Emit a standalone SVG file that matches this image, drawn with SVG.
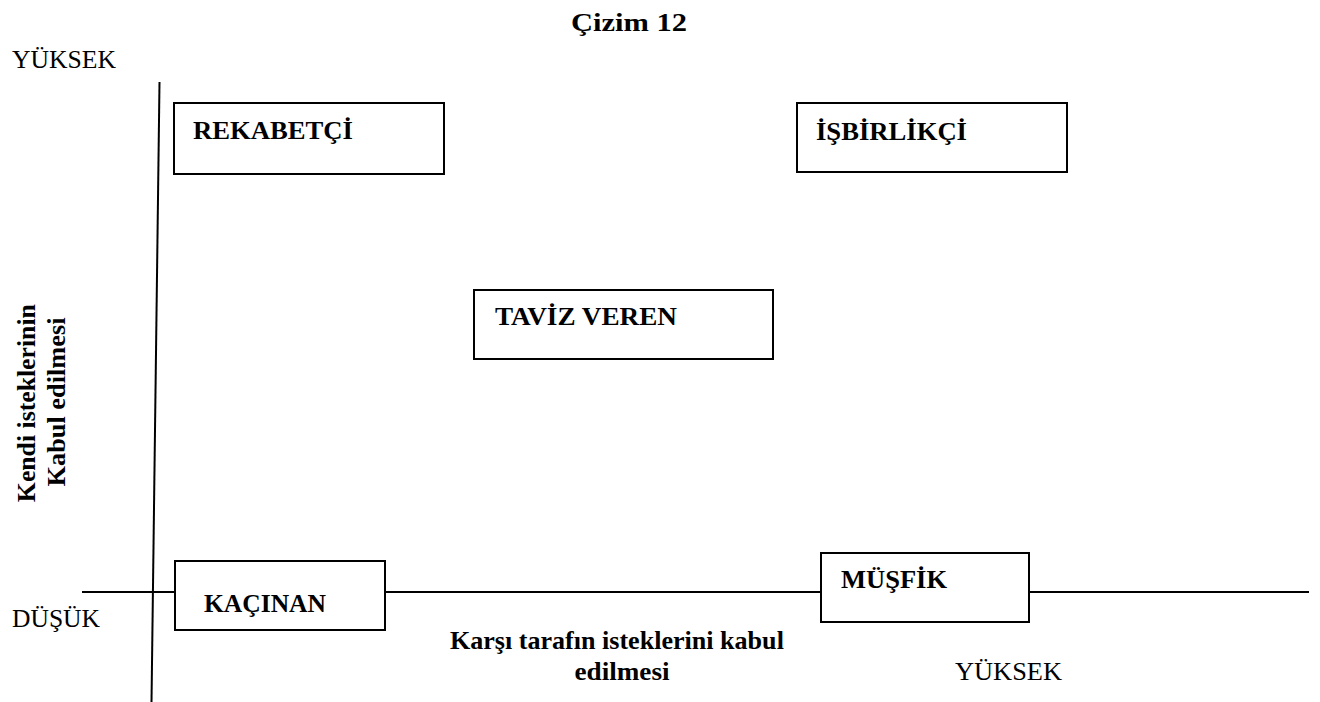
<svg xmlns="http://www.w3.org/2000/svg" width="1320" height="702" viewBox="0 0 1320 702">
  <style>
    .lbl { font-family: "Liberation Serif", "Times New Roman", serif; font-size: 25px; fill: #000; }
    .b { font-weight: bold; }
    .axis { stroke: #000; stroke-width: 2; fill: none; }
    .box rect { fill: #fff; stroke: #000; stroke-width: 2; }
  </style>
  <rect width="1320" height="702" fill="#fff"/>

  <text class="lbl b" x="629" y="31" text-anchor="middle" font-size="28" textLength="116" lengthAdjust="spacingAndGlyphs">Çizim 12</text>

  <!-- axes -->
  <g id="connectors">
    <line class="axis" x1="159.5" y1="82" x2="151.5" y2="702"/>
    <line class="axis" x1="82" y1="592" x2="1309" y2="592"/>
  </g>

  <!-- axis labels -->
  <text class="lbl" x="12" y="68" textLength="104" lengthAdjust="spacingAndGlyphs">YÜKSEK</text>
  <text class="lbl" x="12" y="627" textLength="88" lengthAdjust="spacingAndGlyphs">DÜŞÜK</text>
  <text class="lbl" x="955" y="680" textLength="107" lengthAdjust="spacingAndGlyphs">YÜKSEK</text>
  <text class="lbl b" text-anchor="middle">
    <tspan x="620" y="649" textLength="334" lengthAdjust="spacingAndGlyphs">Karşı tarafın isteklerini kabul</tspan>
    <tspan x="622" y="680" textLength="95" lengthAdjust="spacingAndGlyphs">edilmesi</tspan>
  </text>
  <text class="lbl b" text-anchor="middle" transform="translate(0,400) rotate(-90)">
    <tspan x="0" y="35" textLength="198" lengthAdjust="spacingAndGlyphs">Kendi isteklerinin</tspan>
    <tspan x="-2" y="65" textLength="169" lengthAdjust="spacingAndGlyphs">Kabul edilmesi</tspan>
  </text>

  <g id="rekabetci" class="box">
    <rect x="174" y="103" width="270" height="71"/>
    <text class="lbl b" x="193" y="139" textLength="160" lengthAdjust="spacingAndGlyphs">REKABETÇİ</text>
  </g>
  <g id="isbirlikci" class="box">
    <rect x="797" y="103" width="270" height="69"/>
    <text class="lbl b" x="816" y="140" textLength="151" lengthAdjust="spacingAndGlyphs">İŞBİRLİKÇİ</text>
  </g>
  <g id="taviz-veren" class="box">
    <rect x="474" y="290" width="299" height="69"/>
    <text class="lbl b" x="495" y="325" textLength="182" lengthAdjust="spacingAndGlyphs">TAVİZ VEREN</text>
  </g>
  <g id="kacinan" class="box">
    <rect x="175" y="561" width="210" height="69"/>
    <text class="lbl b" x="204" y="612" textLength="122" lengthAdjust="spacingAndGlyphs">KAÇINAN</text>
  </g>
  <g id="musfik" class="box">
    <rect x="821" y="553" width="208" height="69"/>
    <text class="lbl b" x="841" y="588" textLength="106" lengthAdjust="spacingAndGlyphs">MÜŞFİK</text>
  </g>
</svg>
